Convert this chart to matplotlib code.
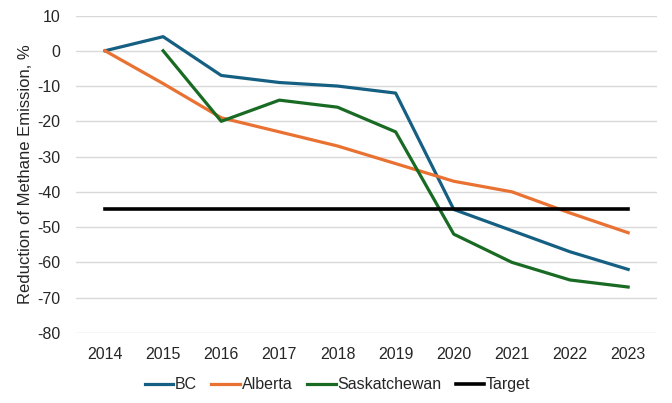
import numpy as np
import matplotlib.pyplot as plt

plt.rcParams['font.family'] = ['Liberation Sans', 'DejaVu Sans']
plt.rcParams['axes.unicode_minus'] = False

years = ['2014', '2015', '2016', '2017', '2018', '2019', '2020', '2021', '2022', '2023']
bc = [0, 4, -7, -9, -10, -12, -45, -51, -57, -62]
alberta = [0, -9.3, -19, -23, -27, -32, -37, -40, -46, -51.6]
sask = [np.nan, 0, -20, -14, -16, -23, -52, -60, -65, -67]
target = [-45] * 10

x = np.arange(len(years))

fig = plt.figure(figsize=(6.72, 4.03), dpi=100)
ax = fig.add_axes([0.113, 0.174, 0.865, 0.7875])

ax.plot(x, bc, color='#156082', lw=2.3, label='BC')
ax.plot(x, alberta, color='#E97132', lw=2.3, label='Alberta')
ax.plot(x, sask, color='#196B24', lw=2.3, label='Saskatchewan')
ax.plot(x, target, color='black', lw=2.6, label='Target')

ax.set_xlim(-0.5, len(years) - 0.5)
ax.set_ylim(-80, 10)
ax.set_yticks(np.arange(-80, 11, 10))
ax.set_xticks(x)
ax.set_xticklabels(years)
ax.tick_params(length=0, labelsize=11.5, colors='#262626', pad=10)
ax.tick_params(axis='y', pad=11)
ax.grid(axis='y', color='#d9d9d9', lw=1)
ax.set_axisbelow(True)
for s in ax.spines.values():
    s.set_visible(False)

ax.set_ylabel('Reduction of Methane Emission, %', fontsize=12, color='#262626', labelpad=3)

ax.legend(loc='upper center', bbox_to_anchor=(0.45, -0.095), ncol=4, frameon=False,
          fontsize=11.5, handlelength=1.8, handletextpad=0.1, columnspacing=0.9,
          labelcolor='#262626')

fig.savefig('out.png', dpi=100)
